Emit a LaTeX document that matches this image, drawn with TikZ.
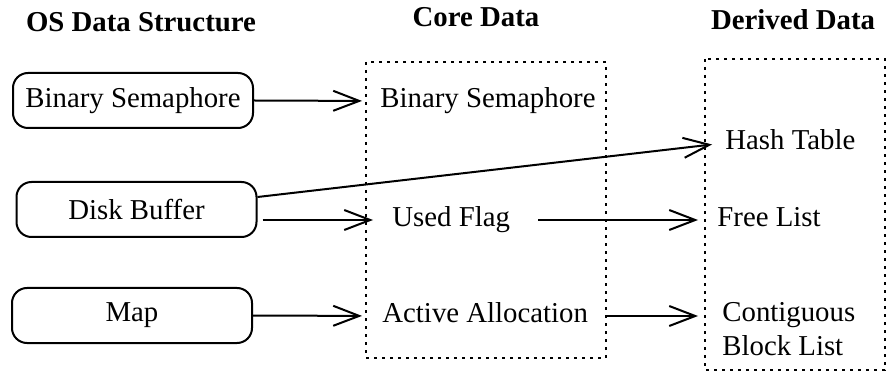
\documentclass[tikz,border=0pt]{standalone}
\usepackage{fontspec}
\setmainfont{Liberation Serif}
\usetikzlibrary{arrows.meta}
\begin{document}
\begin{tikzpicture}[x=0.5pt,y=-0.5pt,
  font=\fontsize{14.4}{17}\selectfont,
  osbox/.style={draw,line width=1pt,rounded corners=7.5pt,minimum width=120pt,minimum height=27.5pt,inner sep=0pt},
  txt/.style={anchor=west,inner sep=0pt,text height=9.5pt,text depth=3pt},
  title/.style={font=\fontsize{14.4}{17}\selectfont\bfseries,inner sep=0pt},
  grp/.style={draw,line width=1pt,dash pattern=on 1.5pt off 2.5pt},
  arr/.style={line width=1pt,-{Straight Barb[length=13pt,width=10pt,line width=1pt]}}]
\useasboundingbox (0,0) rectangle (887,373);
% titles
\node[title] (t1) at (141,22) {OS Data Structure};
\node[title] (t2) at (476,17) {Core Data};
\node[title] (t3) at (793,20) {Derived Data};
% dotted groups
\draw[grp] (366,62) rectangle (606,358);
\draw[grp] (705,59) rectangle (885,370);
% OS boxes
\node[osbox] (bs) at (133,100.5) {Binary Semaphore};
\node[osbox] (db) at (136.5,209.5) {Disk Buffer};
\node[osbox] (mp) at (132,315.5) {Map};
% core
\node[txt] (cbs) at (380,101) {Binary Semaphore};
\node[txt] (cuf) at (392,220) {Used Flag};
\node[txt] (caa) at (382,316) {Active Allocation};
% derived
\node[txt] (cht) at (725,143) {Hash Table};
\node[txt] (cfl) at (717,220) {Free List};
\node[anchor=west,inner sep=0pt,align=left] (ccb) at (722,329) {Contiguous\\Block List};
% connectors
\draw[arr,shorten >=9pt] (bs.east) -- (cbs.west);
\draw[arr,shorten >=6.5pt] ([yshift=6.25pt]db.east) -- (cht.west);
\draw[arr,shorten >=9.5pt] ([xshift=2.5pt,yshift=-5.25pt]db.east) -- (cuf.west);
\draw[arr,shorten >=10pt] (mp.east) -- (caa.west);
\draw[arr,shorten <=14pt,shorten >=9.5pt] (cuf.east) -- (cfl.west);
\draw[arr,shorten <=8.5pt,shorten >=12pt] (caa.east) -- (caa.east -| ccb.west);
\end{tikzpicture}
\end{document}
